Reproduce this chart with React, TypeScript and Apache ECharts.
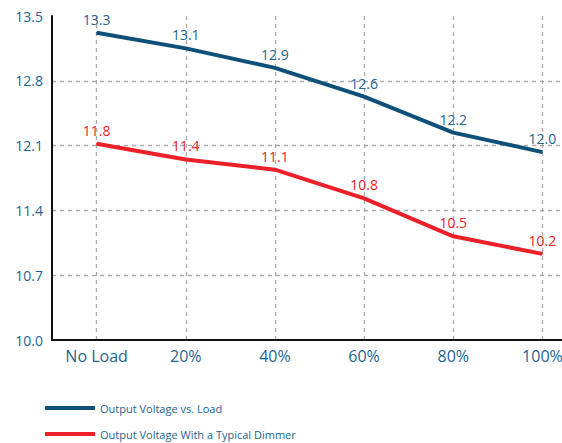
import React, { useEffect, useRef } from "react";
import * as echarts from "echarts";

const categories = ["No Load", "20%", "40%", "60%", "80%", "100%"];
// plotted positions
const loadValues = [13.32, 13.15, 12.94, 12.63, 12.24, 12.03];
const dimmerValues = [12.12, 11.95, 11.84, 11.53, 11.12, 10.93];
// printed data labels
const loadLabels = ["13.3", "13.1", "12.9", "12.6", "12.2", "12.0"];
const dimmerLabels = ["11.8", "11.4", "11.1", "10.8", "10.5", "10.2"];
const seriesNames = ["Output Voltage vs. Load", "Output Voltage With a Typical Dimmer"];

const BLUE = "#0f5078";
const RED = "#ec2029";
const TEXT_BLUE = "#236590";
const FONT = "'Open Sans', 'Noto Sans', sans-serif";

export default function App() {
  const ref = useRef<HTMLDivElement>(null);
  useEffect(() => {
    if (!ref.current) return;
    const chart = echarts.init(ref.current, null, { renderer: "svg" });
    chart.setOption({
      animation: false,
      textStyle: { fontFamily: FONT },
      grid: {
        left: 52,
        width: 535,
        top: 16,
        bottom: 103,
        containLabel: false,
        outerBoundsMode: "none",
      },
      legend: {
        orient: "vertical",
        left: 45,
        top: 401,
        height: 60,
        padding: 0,
        itemWidth: 50,
        itemHeight: 4,
        itemGap: 12,
        icon: "rect",
        textStyle: { color: TEXT_BLUE, fontSize: 11, fontFamily: FONT, lineHeight: 14 },
        data: seriesNames,
      },
      xAxis: {
        type: "category",
        data: categories,
        boundaryGap: true,
        axisLine: { show: true, lineStyle: { color: "#111", width: 2 } },
        axisTick: { show: false },
        axisLabel: { color: TEXT_BLUE, fontSize: 16, margin: 8, fontFamily: FONT, interval: 0 },
        splitLine: {
          show: true,
          alignWithLabel: true,
          lineStyle: { color: "#aaaaaa", type: [4, 4], width: 1.3 },
        },
      },
      yAxis: {
        type: "value",
        min: 10,
        max: 13.5,
        interval: 0.7,
        axisLine: { show: true, lineStyle: { color: "#111", width: 2 } },
        axisTick: { show: false },
        axisLabel: {
          color: TEXT_BLUE,
          fontSize: 14,
          margin: 9,
          fontFamily: FONT,
          formatter: (v: number) => v.toFixed(1),
        },
        splitLine: {
          show: true,
          showMinLine: false,
          showMaxLine: false,
          lineStyle: { color: "#aaaaaa", type: [4, 4], width: 1.3 },
        },
      },
      series: [
        {
          name: seriesNames[0],
          type: "line",
          data: loadValues,
          symbol: "circle",
          symbolSize: 1,
          showSymbol: true,
          lineStyle: { color: BLUE, width: 4 },
          itemStyle: { color: BLUE },
          label: {
            show: true,
            position: "top",
            distance: 6,
            color: TEXT_BLUE,
            fontSize: 14,
            fontFamily: FONT,
            formatter: (p: any) => loadLabels[p.dataIndex],
          },
        },
        {
          name: seriesNames[1],
          type: "line",
          data: dimmerValues,
          symbol: "circle",
          symbolSize: 1,
          showSymbol: true,
          lineStyle: { color: RED, width: 4 },
          itemStyle: { color: RED },
          label: {
            show: true,
            position: "top",
            distance: 6,
            color: RED,
            fontSize: 14,
            fontFamily: FONT,
            formatter: (p: any) => dimmerLabels[p.dataIndex],
          },
        },
      ],
    });
    return () => chart.dispose();
  }, []);
  return (
    <div
      ref={ref}
      style={{ position: "fixed", left: 0, top: 0, width: 562, height: 443, background: "#fff" }}
    />
  );
}
